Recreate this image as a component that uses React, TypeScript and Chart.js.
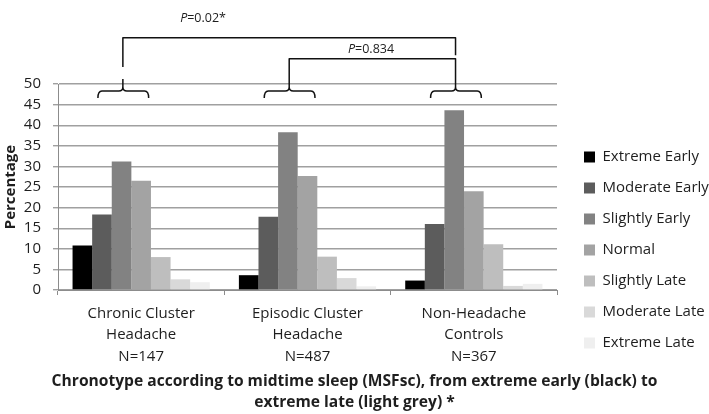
import React, { useEffect, useRef } from "react";
import { Chart, registerables } from "chart.js";

Chart.register(...registerables);

const categories: string[][] = [
  ["Chronic Cluster", "Headache", "N=147"],
  ["Episodic Cluster", "Headache", "N=487"],
  ["Non-Headache", "Controls", "N=367"],
];

const seriesNames = [
  "Extreme Early",
  "Moderate Early",
  "Slightly Early",
  "Normal",
  "Slightly Late",
  "Moderate Late",
  "Extreme Late",
];

const extremeEarly = [10.8, 3.6, 2.3];
const moderateEarly = [18.3, 17.8, 16.0];
const slightlyEarly = [31.2, 38.3, 43.6];
const normal = [26.5, 27.7, 24.0];
const slightlyLate = [8.0, 8.1, 11.1];
const moderateLate = [2.6, 2.9, 1.0];
const extremeLate = [1.9, 0.9, 1.5];

const seriesValues = [
  extremeEarly,
  moderateEarly,
  slightlyEarly,
  normal,
  slightlyLate,
  moderateLate,
  extremeLate,
];

const seriesColors = [
  "#000000",
  "#5c5c5c",
  "#828282",
  "#a3a3a3",
  "#bebebe",
  "#d9d9d9",
  "#efefef",
];

const yTicksMax = 50;
const yTickStep = 5;

const xTitleLines = [
  "Chronotype according to midtime sleep (MSFsc), from extreme early (black) to",
  "extreme late (light grey) *",
];

// Significance annotations (group indices compared and p-value texts)
const comparisons = [
  { from: 0, to: 2, label: "=0.02*", level: 61.2, textLevel: 66.0, textAt: 0.372, leftDrop: 54.1, rightDrop: 57.0 },
  { from: 1, to: 2, label: "=0.834", level: 56.1, textLevel: 58.5, textAt: 1.382, leftDrop: 51.2, rightDrop: 51.2 },
];

const FONT = "'Open Sans', Lato, sans-serif";
const TEXT = "#1e1e1e";

const bracketPlugin = {
  id: "brackets",
  afterDraw(chart: any) {
    const { ctx } = chart;
    const x = chart.scales.x;
    const y = chart.scales.y;
    ctx.save();
    ctx.strokeStyle = "#111";
    ctx.lineWidth = 1.5;
    ctx.lineJoin = "round";
    const braceL = -0.26;
    const braceR = 0.045;
    const braceC = -0.11;
    const yEnd = y.getPixelForValue(46.6);
    const yFlat = y.getPixelForValue(48.3);
    const yTip = y.getPixelForValue(51.2);
    const r = 4;
    for (let i = 0; i < categories.length; i++) {
      const xl = x.getPixelForValue(i + braceL);
      const xr = x.getPixelForValue(i + braceR);
      const xc = x.getPixelForValue(i + braceC);
      ctx.beginPath();
      ctx.moveTo(xl, yEnd);
      ctx.quadraticCurveTo(xl, yFlat, xl + r, yFlat);
      ctx.lineTo(xc - r, yFlat);
      ctx.quadraticCurveTo(xc, yFlat, xc, yFlat - r);
      ctx.lineTo(xc, yTip);
      ctx.moveTo(xc, yFlat - r);
      ctx.quadraticCurveTo(xc, yFlat, xc + r, yFlat);
      ctx.lineTo(xr - r, yFlat);
      ctx.quadraticCurveTo(xr, yFlat, xr, yEnd);
      ctx.stroke();
    }
    for (const c of comparisons) {
      const x1 = x.getPixelForValue(c.from + braceC);
      const x2 = x.getPixelForValue(c.to + braceC);
      const yl = y.getPixelForValue(c.level);
      ctx.beginPath();
      ctx.moveTo(x1, y.getPixelForValue(c.leftDrop));
      ctx.lineTo(x1, yl);
      ctx.lineTo(x2, yl);
      ctx.lineTo(x2, y.getPixelForValue(c.rightDrop));
      ctx.stroke();
      const ty = y.getPixelForValue(c.textLevel);
      const tx = x.getPixelForValue(c.textAt);
      ctx.fillStyle = TEXT;
      ctx.textBaseline = "middle";
      ctx.textAlign = "left";
      ctx.font = `italic 12.5px ${FONT}`;
      const wp = ctx.measureText("P").width;
      ctx.font = `12.5px ${FONT}`;
      const wr = ctx.measureText(c.label).width;
      const start = tx - (wp + wr) / 2;
      ctx.font = `italic 12.5px ${FONT}`;
      ctx.fillText("P", start, ty);
      ctx.font = `12.5px ${FONT}`;
      ctx.fillText(c.label, start + wp, ty);
    }
    ctx.restore();
  },
};

export default function App() {
  const ref = useRef<HTMLCanvasElement | null>(null);
  useEffect(() => {
    if (!ref.current) return;
    const chart = new Chart(ref.current, {
      type: "bar",
      data: {
        labels: categories,
        datasets: seriesNames.map((name, i) => ({
          label: name,
          data: seriesValues[i],
          backgroundColor: seriesColors[i],
          borderWidth: 0,
          categoryPercentage: 0.825,
          barPercentage: 1.0,
        })),
      },
      options: {
        responsive: false,
        animation: false,
        devicePixelRatio: 1,
        layout: { padding: { top: 84, left: 0, right: 0, bottom: 0 } },
        plugins: {
          tooltip: { enabled: false },
          legend: {
            position: "right",
            align: "start",
            maxWidth: 141,
            title: {
              display: true,
              text: " ",
              font: { size: 1 },
              padding: { top: 48.3, bottom: 0 },
            },
            labels: {
              boxWidth: 11,
              boxHeight: 11,
              padding: 16,
              color: TEXT,
              font: { family: FONT, size: 15 },
            },
          },
          title: {
            display: true,
            position: "bottom",
            text: xTitleLines,
            color: TEXT,
            font: { family: FONT, size: 15.6, weight: "bold", lineHeight: 1.35 },
            padding: { top: 4, bottom: 0.5 },
          },
        },
        scales: {
          x: {
            afterFit: (s: any) => {
              s.height -= 8;
            },
            grid: {
              display: true,
              drawOnChartArea: false,
              drawTicks: true,
              tickLength: 5,
              color: "#8c8c8c",
              offset: true,
            },
            border: { display: true, color: "#8c8c8c", width: 1 },
            ticks: {
              color: TEXT,
              padding: 8,
              maxRotation: 0,
              autoSkip: false,
              font: { family: FONT, size: 15, lineHeight: 1.43 },
            },
          },
          y: {
            min: 0,
            max: yTicksMax,
            afterFit: (s: any) => {
              s.width = 58;
            },
            ticks: {
              stepSize: yTickStep,
              autoSkip: false,
              color: TEXT,
              padding: 12,
              font: { family: FONT, size: 15 },
            },
            grid: { color: "#a0a0a0", lineWidth: 1.4, tickLength: 5 },
            border: { display: true, color: "#8c8c8c", width: 1 },
            title: {
              display: true,
              text: "Percentage",
              color: TEXT,
              font: { family: FONT, size: 15, weight: "bold" },
              padding: { top: 1.5, bottom: 0 },
            },
          },
          spacer: {
            type: "linear",
            position: "right",
            display: true,
            afterFit: (s: any) => {
              s.width = 11;
            },
            grid: { display: false, drawTicks: false },
            ticks: { display: false },
            border: { display: false },
          },
        },
      },
      plugins: [bracketPlugin],
    } as any);
    return () => chart.destroy();
  }, []);
  return (
    <div style={{ position: "absolute", left: 0, top: 0, width: 709, height: 414, background: "#fff" }}>
      <canvas ref={ref} width={709} height={414} />
    </div>
  );
}
